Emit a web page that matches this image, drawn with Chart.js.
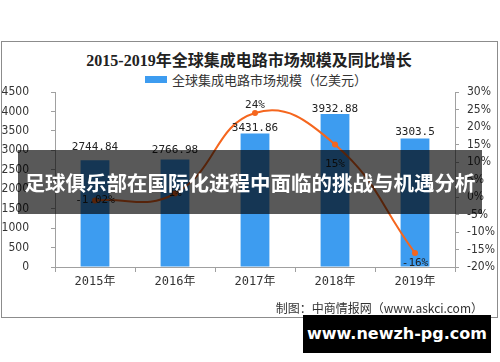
<!DOCTYPE html>
<html>
<head>
<meta charset="utf-8">
<script src="https://cdn.jsdelivr.net/npm/chart.js@4/dist/chart.umd.min.js"></script>
<style>
body { margin:0; width:500px; height:362px; position:relative; overflow:hidden; background:#fff; font-family:"Noto Sans CJK SC", sans-serif; }
#frame { position:absolute; left:1px; top:41px; width:495px; height:275px; border:1px solid #8c8c8c; }
#title { position:absolute; left:0; top:50px; width:498px; text-align:center; font:bold 16px "Liberation Serif", "Noto Sans CJK SC", serif; color:#222; line-height:22px; }
#legend { position:absolute; left:145px; top:72px; font-size:13px; line-height:16px; color:#333; }
#legend i { display:inline-block; width:22px; height:7px; background:#3d9cf0; margin-right:5px; vertical-align:2px; }
#c { position:absolute; left:0; top:0; }
#source { position:absolute; right:17px; top:300px; font-size:12px; color:#333; line-height:16px; }
#banner { position:absolute; left:18px; top:150px; width:464px; height:64px; background:rgba(0,0,0,0.65); color:#fff; font-weight:bold; font-size:20.5px; line-height:64px; text-align:center; white-space:nowrap; }
#site { position:absolute; left:303px; top:315px; width:188px; height:38px; background:#000; color:#fff; font:bold 16px "DejaVu Sans", sans-serif; line-height:38px; text-align:center; }
</style>
</head>
<body>
<div id="frame"></div>
<div id="title">2015-2019年全球集成电路市场规模及同比增长</div>
<div id="legend"><i></i>全球集成电路市场规模（亿美元）</div>
<canvas id="c" width="500" height="362"></canvas>
<div id="source">制图：中商情报网（www.askci.com）</div>
<div id="banner">足球俱乐部在国际化进程中面临的挑战与机遇分析</div>
<div id="site">www.newzh-pg.com</div>
<script>
const years = ["2015年", "2016年", "2017年", "2018年", "2019年"];
const marketSize = [2744.84, 2766.98, 3431.86, 3932.88, 3303.5];
const growthRate = [-1.02, 1, 24, 15, -16];

const tickFont = { family: "'Liberation Sans Narrow', 'DejaVu Sans Condensed', 'Liberation Sans', sans-serif", size: 12 };
const axisGray = "#a0a0a0";

// labels over the bars and next to the points
const valueLabels = {
  id: "valueLabels",
  afterDatasetsDraw(chart, args, opts) {
    const ctx = chart.ctx;
    ctx.save();
    ctx.font = "11px 'DejaVu Sans Mono', monospace";
    ctx.fillStyle = "#222";
    ctx.textAlign = "center";
    ctx.textBaseline = "middle";
    chart.getDatasetMeta(1).data.forEach((bar, i) => {
      ctx.fillText(String(marketSize[i]), bar.x, bar.y + opts.barOffsets[i]);
    });
    chart.getDatasetMeta(0).data.forEach((pt, i) => {
      ctx.fillText(growthRate[i] + "%", pt.x, pt.y + opts.rateOffsets[i]);
    });
    ctx.restore();
  }
};

new Chart(document.getElementById("c"), {
  data: {
    labels: years,
    datasets: [
      {
        type: "line",
        label: "同比增长",
        data: growthRate,
        yAxisID: "y1",
        borderColor: "#f5661e",
        backgroundColor: "#f5661e",
        borderWidth: 2,
        tension: 0.45,
        pointRadius: 3,
        pointBorderWidth: 0,
        order: 0
      },
      {
        type: "bar",
        label: "全球集成电路市场规模（亿美元）",
        data: marketSize,
        yAxisID: "y",
        backgroundColor: "#3d9cf0",
        categoryPercentage: 1,
        barPercentage: 0.36,
        order: 1
      }
    ]
  },
  options: {
    responsive: false,
    animation: false,
    layout: { padding: { top: 92, left: 0, right: 0, bottom: 65 } },
    plugins: {
      legend: { display: false },
      tooltip: { enabled: false },
      valueLabels: {
        barOffsets: [-13, -9, -5, -5, -6],
        rateOffsets: [0, 0, -8, 20, 10]
      }
    },
    scales: {
      x: {
        afterFit: s => { s.height = 30; },
        grid: { offset: true, drawOnChartArea: false, tickLength: 5, color: axisGray },
        border: { color: axisGray },
        ticks: { font: { family: "'DejaVu Sans Mono', 'Noto Sans CJK SC', monospace", size: 12 }, color: "#333", padding: 3 }
      },
      y: {
        position: "left",
        min: 0,
        max: 4500,
        afterFit: s => { s.width = 55; },
        grid: { drawOnChartArea: false, tickLength: 4, color: axisGray },
        border: { color: axisGray },
        ticks: { stepSize: 500, font: tickFont, color: "#333", padding: 22, callback: v => String(v) }
      },
      y1: {
        position: "right",
        min: -20,
        max: 30,
        afterFit: s => { s.width = 45; },
        grid: { drawOnChartArea: false, tickLength: 4, color: axisGray },
        border: { color: axisGray },
        ticks: { stepSize: 5, font: tickFont, color: "#333", padding: 8, callback: v => v + "%" }
      }
    }
  },
  plugins: [valueLabels]
});
</script>
</body>
</html>
